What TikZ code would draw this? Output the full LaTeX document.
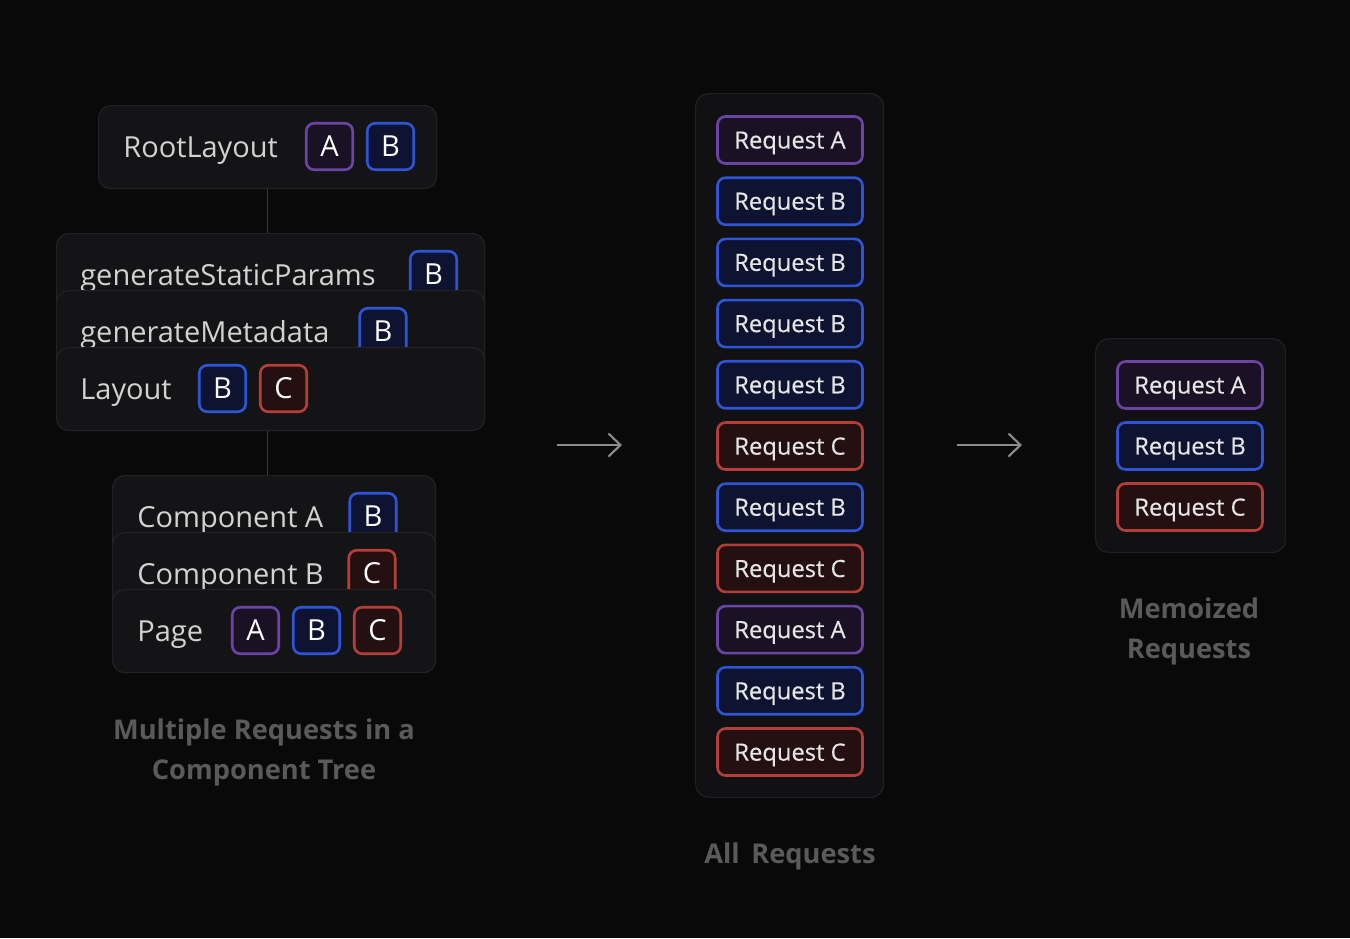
\documentclass[tikz,border=0pt]{standalone}
\usepackage{fontspec}
\setmainfont{Open Sans}
\newfontfamily\reqfont{Open Sans}[FakeBold=0.35]
\usetikzlibrary{positioning,arrows.meta}
\definecolor{bg}{HTML}{09090A}
\definecolor{cardfill}{HTML}{141416}
\definecolor{cardedge}{HTML}{222225}
\definecolor{boxfill}{HTML}{111113}
\definecolor{boxedge}{HTML}{202024}
\definecolor{lbltxt}{HTML}{D2D2D2}
\definecolor{reqtxt}{HTML}{E6E6E6}
\definecolor{captxt}{HTML}{5A5A5C}
\definecolor{treeline}{HTML}{38383B}
\definecolor{arrowcol}{HTML}{8C8C8C}
\definecolor{Aedge}{HTML}{6B44A6}
\definecolor{Afill}{HTML}{1A1224}
\definecolor{Bedge}{HTML}{2F55D6}
\definecolor{Bfill}{HTML}{0D1330}
\definecolor{Cedge}{HTML}{B53F38}
\definecolor{Cfill}{HTML}{241010}
\begin{document}
\begin{tikzpicture}[x=0.02cm,y=-0.02cm,
    card/.style={draw=cardedge,fill=cardfill,rounded corners=0.24cm,line width=0.7pt,anchor=north west,inner sep=0pt,minimum height=1.66cm},
    lbl/.style={text=lbltxt,font=\fontsize{16.5}{20}\selectfont,anchor=base west,inner sep=0pt},
    chip/.style={draw=#1edge,fill=#1fill,line width=1.5pt,rounded corners=0.16cm,minimum size=0.93cm,inner sep=0pt,text=white,font=\fontsize{16.5}{20}\selectfont},
    req/.style={draw=#1edge,fill=#1fill,line width=1.5pt,rounded corners=0.16cm,minimum width=2.9cm,minimum height=0.94cm,inner sep=0pt,text depth=0pt,text=reqtxt,font=\fontsize{13.5}{15}\reqfont},
    panel/.style={draw=boxedge,fill=boxfill,rounded corners=0.26cm,line width=0.7pt,anchor=north west,inner sep=0pt},
    caption/.style={text=captxt,font=\fontsize{15.5}{23}\selectfont\bfseries,align=center},
    tree/.style={draw=treeline,line width=1pt},
    flow/.style={draw=arrowcol,line width=1.2pt,-{Straight Barb[length=0.24cm,width=0.46cm]}}]
  \fill[bg] (0,0) rectangle (1350,938);
  \useasboundingbox (0,0) rectangle (1350,938);

  % component tree
  \node[card,minimum width=6.76cm] (root) at (98,105) {};
  \node[lbl] (rootlbl) at (123,157.5) {RootLayout};
  \node[chip=A] (rootA) at (329.5,146.5) {A};
  \node[chip=B] (rootB) at (390.5,146.5) {B};

  \node[card,minimum width=8.56cm] (gsp) at (56,233) {};
  \node[lbl] (gsplbl) at (80,285.5) {generateStaticParams};
  \node[chip=B] (gspB) at (433.5,274.5) {B};
  \node[card,minimum width=8.56cm] (gm) at (56,290) {};
  \node[lbl] (gmlbl) at (80,342.5) {generateMetadata};
  \node[chip=B] (gmB) at (383,331.5) {B};
  \node[card,minimum width=8.56cm] (lay) at (56,347) {};
  \node[lbl] (laylbl) at (80,399.5) {Layout};
  \node[chip=B] (layB) at (222.5,388.5) {B};
  \node[chip=C] (layC) at (283.5,388.5) {C};

  \node[card,minimum width=6.46cm] (ca) at (112,475) {};
  \node[lbl] (calbl) at (137,527.5) {Component A};
  \node[chip=B] (caB) at (373,516.5) {B};
  \node[card,minimum width=6.46cm] (cb) at (112,532) {};
  \node[lbl] (cblbl) at (137,584.5) {Component B};
  \node[chip=C] (cbC) at (372,573.5) {C};
  \node[card,minimum width=6.46cm] (pg) at (112,589) {};
  \node[lbl] (pglbl) at (137,641.5) {Page};
  \foreach \x/\t in {255.5/A,316.5/B,377.5/C} \node[chip=\t] (pg\t) at (\x,630.5) {\t};

  \draw[tree] (root.south) -- (root.south |- gsp.north) (root.south |- lay.south) -- (root.south |- ca.north);
  \node[caption] (treecap) at (264,752.5) {Multiple Requests in a\\Component Tree};

  % all requests
  \node[panel,minimum width=3.76cm,minimum height=14.08cm] (all) at (695,93) {};
  \foreach \t[count=\i from 0] in {A,B,B,B,B,C,B,C,A,B,C} \node[req=\t] (r\i) at (790,140+61.2*\i) {Request \t};
  \node[caption] (allcap) at (790,856) {All\, Requests};

  % memoized
  \node[panel,minimum width=3.8cm,minimum height=4.28cm] (memo) at (1095,338) {};
  \foreach \t[count=\i from 0] in {A,B,C} \node[req=\t] (m\i) at (1190,385+61*\i) {Request \t};
  \node[caption] (memocap) at (1189,631.5) {Memoized\\Requests};

  \coordinate (f1s) at (557,445); \coordinate (f1e) at (622,445);
  \coordinate (f2s) at (957,445); \coordinate (f2e) at (1022,445);
  \draw[flow] (f1s) -- (f1e);
  \draw[flow] (f2s) -- (f2e);
\end{tikzpicture}
\end{document}
